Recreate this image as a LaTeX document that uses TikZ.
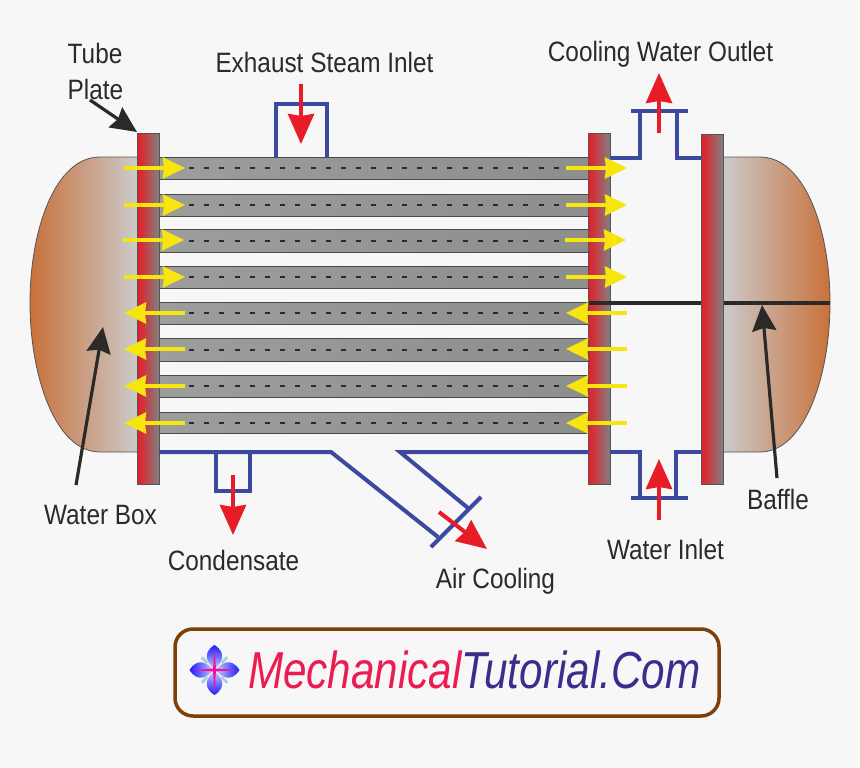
\documentclass[tikz,border=0pt]{standalone}
\usepackage{fontspec}
\setmainfont[FakeStretch=0.87]{Liberation Sans}
\newfontfamily\logofont[FakeStretch=0.812]{Liberation Sans}
\usetikzlibrary{arrows.meta, positioning, calc}
\definecolor{paper}{HTML}{F7F7F7}
\definecolor{inkblack}{HTML}{2B2A29}
\definecolor{shellblue}{HTML}{3B4A9F}
\definecolor{flowred}{HTML}{E81C26}
\definecolor{flowyellow}{HTML}{F6E50E}
\definecolor{plategrey}{HTML}{808080}
\definecolor{boxorange}{HTML}{C9713A}
\definecolor{boxgrey}{HTML}{CBCBCB}
\definecolor{tubegrey}{HTML}{9C9E9C}
\definecolor{logored}{HTML}{EC1C50}
\definecolor{logonavy}{HTML}{3A2E8C}
\definecolor{logobrown}{HTML}{7F3F0A}
\tikzset{
  label/.style={font=\fontsize{28}{30}\selectfont, text=inkblack, inner sep=0pt, align=center},
  plate/.style={draw=inkblack!80, line width=0.8pt, left color=flowred, middle color=flowred!70!plategrey, right color=plategrey},
  tube/.style={draw=inkblack!85, line width=1pt, left color=tubegrey, right color=tubegrey!90!black},
  shell/.style={draw=shellblue, line width=4pt, miter limit=4},
  redflow/.style={draw=flowred, fill=flowred, line width=4pt, -{Stealth[length=30pt, width=26pt, inset=2pt]}},
  yellowflow/.style={draw=flowyellow, fill=flowyellow, line width=3.5pt, -{Stealth[length=22pt, width=21pt, inset=1pt]}},
  pointer/.style={draw=inkblack, fill=inkblack, line width=3.2pt, -{Stealth[length=26pt, width=24pt, inset=3pt]}},
}
\begin{document}
\begin{tikzpicture}[x=1pt, y=-1pt]
  \fill[paper] (0,0) rectangle (860,768);
  % water boxes
  \path[draw=inkblack!80, line width=0.8pt, left color=boxorange, right color=boxgrey]
    (138,157) -- (100,157) .. controls (55,157) and (30,230) .. (30,303)
    .. controls (30,375) and (55,452) .. (100,452) -- (138,452) -- cycle;
  \path[draw=inkblack!80, line width=0.8pt, left color=boxgrey, right color=boxorange]
    (723,157) -- (760,157) .. controls (805,157) and (830,230) .. (830,303)
    .. controls (830,375) and (805,452) .. (760,452) -- (723,452) -- cycle;
  % tubes
  \foreach \top/\bot in {157/179, 194/216, 229/252, 266/288, 302/324, 338/361, 375/397, 412/433}{%
    \path[tube] (159,\top) rectangle (588,\bot);
    \draw[inkblack, line width=2pt, dash pattern=on 5pt off 10.2pt]
      (189,{(\top+\bot)/2}) -- (588,{(\top+\bot)/2});}
  % plates
  \path[plate] (137.5,133) rectangle (159,484);
  \path[plate] (588,133) rectangle (610,484);
  \draw[inkblack, line width=4pt] (589,303) -- (830,303);
  \path[plate] (701,134) rectangle (723,484);
  % shell
  \draw[shell] (276,157) -- (276,104) -- (327,104) -- (327,157);
  \draw[shell] (610,157.5) -- (640,157.5) -- (640,111);
  \draw[shell] (701,157.5) -- (677,157.5) -- (677,111);
  \draw[shell] (631,111) -- (688,111);
  \draw[shell] (159,452) -- (331,452) -- (438,537);
  \draw[shell] (588,452) -- (400,452) -- (468,508);
  \draw[shell] (431,547) -- (481,497);
  \draw[shell] (216,452) -- (216,491) -- (250,491) -- (250,452);
  \draw[shell] (610,452) -- (640,452) -- (640,498);
  \draw[shell] (701,452) -- (676,452) -- (676,498);
  \draw[shell] (631,498) -- (688,498);
  % tube flow
  \foreach \yy/\xa/\xb in {168/124/566, 205/124/566, 240/123/565, 277/124/566}{%
    \coordinate (inA) at (\xa,\yy);
    \coordinate (inB) at (\xb,\yy);
    \draw[yellowflow] (inA) -- +(61,0);
    \draw[yellowflow] (inB) -- +(61,0);}
  \foreach \yy in {313, 349, 386, 423}{%
    \coordinate (backA) at (185,\yy);
    \coordinate (backB) at (627,\yy);
    \draw[yellowflow] (backA) -- +(-61,0);
    \draw[yellowflow] (backB) -- +(-61,0);}
  % red flow
  \coordinate (steamA) at (301,84);   \coordinate (steamB) at (301,144);
  \coordinate (outA) at (659,133);    \coordinate (outB) at (659,73);
  \coordinate (condA) at (233,475);   \coordinate (condB) at (233,535);
  \coordinate (airA) at (439,512);    \coordinate (airB) at (487,549);
  \coordinate (waterA) at (659,520);  \coordinate (waterB) at (659,459);
  \foreach \a/\b in {steamA/steamB, outA/outB, condA/condB, airA/airB, waterA/waterB}{%
    \draw[redflow] (\a) -- (\b);}
  % labels
  \node[label, align=left] (tubeplate) at (95.5,71) {Tube\\[6pt]Plate};
  \node[label] (exhaust) at (324.5,62.5) {Exhaust Steam Inlet};
  \node[label] (outlet) at (660.5,54.5) {Cooling Water Outlet};
  \node[label] (waterbox) at (100.5,515) {Water Box};
  \node[label] (condensate) at (233.5,560) {Condensate};
  \node[label] (aircooling) at (495.5,581.5) {Air Cooling};
  \node[label] (waterinlet) at (665.5,549) {Water Inlet};
  \node[label] (baffle) at (778,499) {Baffle};
  \coordinate (plateA) at (90,100);   \coordinate (plateB) at (137,132);
  \coordinate (boxA) at (76,485);     \coordinate (boxB) at (103,327);
  \coordinate (baffleA) at (777,478); \coordinate (baffleB) at (762,305);
  \foreach \a/\b in {plateA/plateB, boxA/boxB, baffleA/baffleB}{%
    \draw[pointer] (\a) -- (\b);}
  % logo
  \node[draw=logobrown, line width=3.5pt, rounded corners=18pt, minimum width=544pt, minimum height=87pt, inner sep=0pt] (logobox) at (447,672.5) {};
  \node[inner sep=0pt, anchor=west, font=\logofont\itshape\fontsize{52}{56}\selectfont] (logotext) at (248,670)
    {\textcolor{logored}{Mechanical}\textcolor{logonavy}{Tutorial.Com}};
  \coordinate (flower) at (214.5,670);
  \foreach \ang in {0,90,180,270}{%
    \shade[rotate around={\ang:(flower)}, top color=white!80!blue, bottom color=blue!90!white, shading angle=\ang+90]
      ($(flower)+(1,0)$) .. controls ($(flower)+(6,-6)$) and ($(flower)+(16,-14)$) .. ($(flower)+(25,0)$)
      .. controls ($(flower)+(16,14)$) and ($(flower)+(6,6)$) .. ($(flower)+(1,0)$) -- cycle;}
  \foreach \ang in {45,135,225,315}{%
    \draw[rotate around={\ang:(flower)}, draw=teal!35, line width=2.5pt] ($(flower)+(10,0)$) -- ($(flower)+(18,0)$);}
  \foreach \ang in {0,90,180,270}{%
    \fill[rotate around={\ang:(flower)}, logored!60!magenta]
      ($(flower)+(0,-1.5)$) -- ($(flower)+(23,0)$) -- ($(flower)+(0,1.5)$) -- cycle;}
\end{tikzpicture}
\end{document}
